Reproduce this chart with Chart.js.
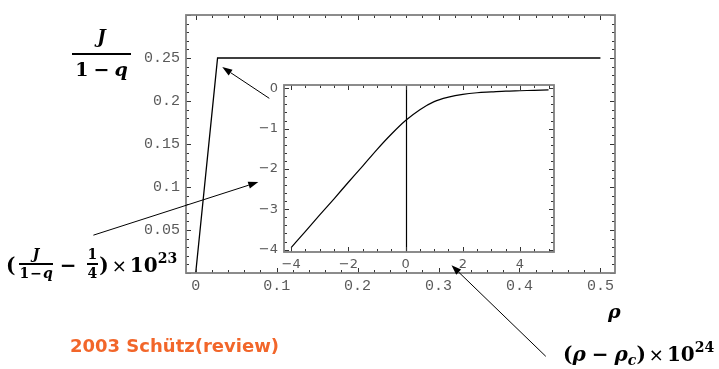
<!DOCTYPE html>
<html>
<head>
<meta charset="utf-8">
<script src="https://cdn.jsdelivr.net/npm/chart.js@4.4.1/dist/chart.umd.min.js"></script>
<style>
html, body { margin: 0; padding: 0; background: #fff; }
#wrap { position: relative; width: 719px; height: 369px; overflow: hidden; }
canvas { position: absolute; left: 0; top: 0; }
.m { position: absolute; font-family: 'DejaVu Serif', serif; font-weight: bold; color: #000; white-space: nowrap; line-height: 1; }
.op { display: inline-block; margin: 0 5px; }
.op2 { display: inline-block; margin: 0 6px; }
.times { display: inline-block; margin: 0 3px; font-family: 'DejaVu Sans', sans-serif; font-weight: normal; font-size: 18px; }
.fr { display: inline-block; vertical-align: middle; position: relative; top: -3px; text-align: center; font-size: 14px; line-height: 1.05; margin: 0 1px 0 4px; }
.nu { display: block; border-bottom: 2px solid #000; padding: 0 1px 1px; }
.de { display: block; padding-top: 1px; }
.sm { display: inline-block; margin: 0 1px; }
sup { font-size: 14px; line-height: 0; vertical-align: 9px; }
sub { font-size: 14px; line-height: 0; vertical-align: -4px; }
#src { position: absolute; left: 70px; top: 337px; font-family: 'DejaVu Sans', sans-serif; font-weight: bold; font-size: 18px; line-height: 1; color: #f2662a; white-space: nowrap; }
</style>
</head>
<body>
<div id="wrap">
  <canvas id="mainChart" width="719" height="369"></canvas>
  <canvas id="insetChart" width="719" height="369"></canvas>

  <div class="m" style="left:72px;top:28px;width:59px;text-align:center;font-size:18px"><i>J</i></div>
  <div style="position:absolute;left:72px;top:53px;width:59px;height:2px;background:#000"></div>
  <div class="m" style="left:70px;top:60px;width:63px;text-align:center;font-size:19px">1<span class="op">−</span><i>q</i></div>

  <div class="m" style="left:6px;top:250px;font-size:20px">(<span class="fr"><span class="nu"><i>J</i></span><span class="de">1<span class="sm">−</span><i>q</i></span></span><span class="op2">−</span><span class="fr"><span class="nu">1</span><span class="de">4</span></span>)<span class="times">×</span>10<sup>23</sup></div>

  <div class="m" style="left:608px;top:302px;font-size:19px"><i>ρ</i></div>

  <div class="m" style="left:563px;top:344px;font-size:20px">(<i>ρ</i><span class="op2">−</span><i>ρ<sub>c</sub></i>)<span class="times">×</span>10<sup>24</sup></div>

  <div id="src">2003 Schütz(review)</div>
</div>

<script>
// main plot: J/(1-q) against rho
const mainRho = [0, 0.027, 0.5];
const mainJ = [0, 0.25, 0.25];
const mainXTicks = [0, 0.1, 0.2, 0.3, 0.4, 0.5];
const mainXLabels = ['0', '0.1', '0.2', '0.3', '0.4', '0.5'];
const mainYTicks = [0.05, 0.1, 0.15, 0.2, 0.25];
const mainYLabels = ['0.05', '0.1', '0.15', '0.2', '0.25'];

// inset: zoom near rho_c
const insetX = [-4, -3.5, -3, -2.5, -2, -1.5, -1, -0.5, 0, 0.5, 1, 1.5, 2, 2.5, 3, 3.5, 4, 4.5, 5];
const insetY = [-3.95, -3.55, -3.14, -2.74, -2.33, -1.93, -1.52, -1.14, -0.80, -0.53, -0.33, -0.22, -0.15, -0.11, -0.09, -0.07, -0.06, -0.05, -0.04];
const insetXTicks = [-4, -2, 0, 2, 4];
const insetXLabels = ['−4', '−2', '0', '2', '4'];
const insetYTicks = [0, -1, -2, -3, -4];
const insetYLabels = ['0', '−1', '−2', '−3', '−4'];

// arrows, in main-plot data units (tail -> tip)
const arrows = [
    { from: [0.0909, 0.2031], to: [0.0328, 0.2394] },
    { from: [-0.1264, 0.0440], to: [0.0773, 0.1057] },
    { from: [0.4325, -0.0969], to: [0.3160, 0.0091] }
];

// mathematica style frame with inward ticks on all four sides
const framePlugin = {
    id: 'frame',
    afterDatasetsDraw(chart, args, o) {
        const ctx = chart.ctx;
        const a = chart.chartArea;
        const sx = chart.scales.x, sy = chart.scales.y;
        ctx.save();
        if (o.zeroAxis) {
            const px = Math.round(sx.getPixelForValue(0)) + 0.5;
            ctx.strokeStyle = '#000';
            ctx.lineWidth = 1.2;
            ctx.beginPath();
            ctx.moveTo(px, a.top);
            ctx.lineTo(px, a.bottom);
            ctx.stroke();
        }
        ctx.strokeStyle = '#333';
        ctx.lineWidth = 1;
        const steps = (min, max, step) => {
            const out = [];
            for (let k = Math.ceil(min / step - 1e-9); k * step <= max + 1e-9; k++) out.push(k * step);
            return out;
        };
        const isMajor = (v, m) => Math.abs(v / m - Math.round(v / m)) < 1e-6;
        ctx.beginPath();
        steps(sx.min, sx.max, o.xMinor).forEach(v => {
            const len = isMajor(v, o.xMajor) ? 5 : 3;
            const px = Math.round(sx.getPixelForValue(v)) + 0.5;
            ctx.moveTo(px, a.bottom); ctx.lineTo(px, a.bottom - len);
            ctx.moveTo(px, a.top); ctx.lineTo(px, a.top + len);
        });
        steps(sy.min, sy.max, o.yMinor).forEach(v => {
            const len = isMajor(v, o.yMajor) ? 5 : 3;
            const py = Math.round(sy.getPixelForValue(v)) + 0.5;
            ctx.moveTo(a.left, py); ctx.lineTo(a.left + len, py);
            ctx.moveTo(a.right, py); ctx.lineTo(a.right - len, py);
        });
        ctx.stroke();
        ctx.strokeStyle = '#808080';
        ctx.lineWidth = 1.8;
        ctx.strokeRect(a.left, a.top, a.width, a.height);
        ctx.restore();
    }
};

const arrowPlugin = {
    id: 'arrows',
    afterDraw(chart) {
        const ctx = chart.ctx;
        const sx = chart.scales.x, sy = chart.scales.y;
        ctx.save();
        ctx.strokeStyle = '#000';
        ctx.fillStyle = '#000';
        ctx.lineWidth = 1;
        arrows.forEach(ar => {
            const x0 = sx.getPixelForValue(ar.from[0]), y0 = sy.getPixelForValue(ar.from[1]);
            const x1 = sx.getPixelForValue(ar.to[0]), y1 = sy.getPixelForValue(ar.to[1]);
            const ang = Math.atan2(y1 - y0, x1 - x0);
            const hl = 10, hw = 3.5;
            const bx = x1 - hl * Math.cos(ang), by = y1 - hl * Math.sin(ang);
            ctx.beginPath();
            ctx.moveTo(x0, y0);
            ctx.lineTo(bx, by);
            ctx.stroke();
            ctx.beginPath();
            ctx.moveTo(x1, y1);
            ctx.lineTo(bx - hw * Math.sin(ang), by + hw * Math.cos(ang));
            ctx.lineTo(bx + hw * Math.sin(ang), by - hw * Math.cos(ang));
            ctx.closePath();
            ctx.fill();
        });
        ctx.restore();
    }
};

function axis(min, max, ticks, labels, font, pad, size, horizontal) {
    return {
        type: 'linear',
        min: min,
        max: max,
        grid: { display: false, drawTicks: false },
        border: { display: false },
        afterBuildTicks: s => { s.ticks = ticks.map(v => ({ value: v })); },
        afterFit: s => { if (horizontal) s.height = size; else s.width = size; },
        ticks: {
            autoSkip: false,
            maxRotation: 0,
            padding: pad,
            color: '#5a5a5a',
            font: font,
            callback: (v, i) => labels[i]
        }
    };
}

const monoFont = { family: 'Liberation Mono', size: 15 };
const sansFont = { family: 'DejaVu Sans', size: 13 };

new Chart(document.getElementById('mainChart'), {
    type: 'line',
    data: {
        datasets: [{
            data: mainRho.map((r, i) => ({ x: r, y: mainJ[i] })),
            borderColor: '#000',
            borderWidth: 1.3,
            pointRadius: 0,
            tension: 0,
            fill: false
        }]
    },
    options: {
        responsive: false,
        animation: false,
        layout: { padding: { left: 0, top: 9, right: 104, bottom: 0 } },
        plugins: {
            legend: { display: false },
            tooltip: { enabled: false },
            frame: { xMinor: 0.02, xMajor: 0.1, yMinor: 0.01, yMajor: 0.05 }
        },
        scales: {
            x: axis(-0.012, 0.518, mainXTicks, mainXLabels, monoFont, 4, 96, true),
            y: axis(0, 0.3, mainYTicks, mainYLabels, monoFont, 6, 186, false)
        }
    },
    plugins: [framePlugin, arrowPlugin]
});

new Chart(document.getElementById('insetChart'), {
    type: 'line',
    data: {
        datasets: [{
            data: insetX.map((v, i) => ({ x: v, y: insetY[i] })),
            borderColor: '#000',
            borderWidth: 1.2,
            pointRadius: 0,
            cubicInterpolationMode: 'monotone',
            fill: false
        }]
    },
    options: {
        responsive: false,
        animation: false,
        layout: { padding: { left: 0, top: 85, right: 165, bottom: 0 } },
        plugins: {
            legend: { display: false },
            tooltip: { enabled: false },
            frame: { xMinor: 0.5, xMajor: 2, yMinor: 0.2, yMajor: 1, zeroAxis: true }
        },
        scales: {
            x: axis(-4.25, 5.19, insetXTicks, insetXLabels, sansFont, 5, 117, true),
            y: axis(-4.06, 0.082, insetYTicks, insetYLabels, sansFont, 6, 284, false)
        }
    },
    plugins: [framePlugin]
});
</script>
</body>
</html>
